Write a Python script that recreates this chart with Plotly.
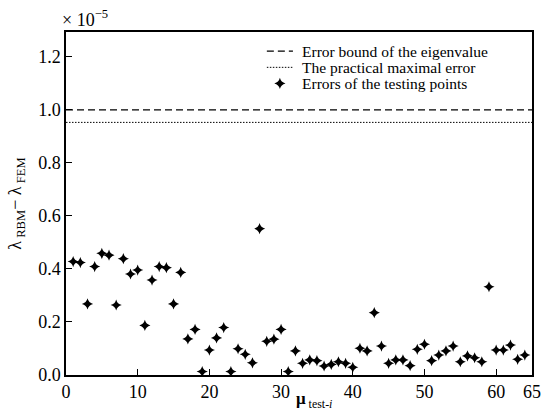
import plotly.graph_objects as go

# values in units of 1e-5
mu_test = list(range(1, 65))
errors = [0.428, 0.424, 0.268, 0.409, 0.459, 0.452, 0.264, 0.439, 0.381, 0.396,
          0.187, 0.358, 0.409, 0.405, 0.268, 0.387, 0.136, 0.172, 0.013, 0.094,
          0.140, 0.179, 0.013, 0.099, 0.078, 0.046, 0.552, 0.127, 0.135, 0.172,
          0.013, 0.091, 0.044, 0.057, 0.054, 0.034, 0.040, 0.050, 0.044, 0.029,
          0.101, 0.091, 0.235, 0.109, 0.044, 0.057, 0.057, 0.035, 0.097, 0.116,
          0.054, 0.075, 0.091, 0.109, 0.050, 0.072, 0.065, 0.050, 0.333, 0.094,
          0.094, 0.113, 0.059, 0.075]
error_bound = 1.0
practical_max = 0.953
x_range = [0, 65]
x_ticks = [0, 10, 20, 30, 40, 50, 60, 65]
y_ticks = [0.0, 0.2, 0.4, 0.6, 0.8, 1.0, 1.2]
legend_names = ["Error bound of the eigenvalue",
                "The practical maximal error",
                "Errors of the testing points"]

FONT = "Liberation Serif, Times New Roman, serif"
DASH = "7px,4px"
DOT = "1.5px,1.5px"

fig = go.Figure()
fig.add_trace(go.Scatter(x=x_range, y=[error_bound, error_bound], mode="lines",
                         line=dict(color="black", width=1.2, dash=DASH),
                         name=legend_names[0], showlegend=False))
fig.add_trace(go.Scatter(x=x_range, y=[practical_max, practical_max], mode="lines",
                         line=dict(color="black", width=1, dash=DOT),
                         name=legend_names[1], showlegend=False))
fig.add_trace(go.Scatter(x=mu_test, y=errors, mode="markers",
                         marker=dict(symbol="star-diamond", size=8, color="black"),
                         name=legend_names[2], showlegend=False))

# compact legend (the reference's entries are tightly stacked)
leg_y = [0.944, 0.897, 0.850]
leg_x0, leg_x1, leg_tx = 0.431, 0.487, 0.503
fig.add_shape(type="line", xref="paper", yref="paper", x0=leg_x0, x1=leg_x1,
              y0=leg_y[0], y1=leg_y[0], line=dict(color="black", width=1.2, dash=DASH))
fig.add_shape(type="line", xref="paper", yref="paper", x0=leg_x0, x1=leg_x1,
              y0=leg_y[1], y1=leg_y[1], line=dict(color="black", width=1, dash=DOT))
fig.add_trace(go.Scatter(x=[(leg_x0 + leg_x1) / 2], y=[leg_y[2]], mode="markers",
                         marker=dict(symbol="star-diamond", size=8, color="black"),
                         xaxis="x2", yaxis="y2", showlegend=False, hoverinfo="skip"))
for name, yy in zip(legend_names, leg_y):
    fig.add_annotation(text=name, xref="paper", yref="paper", x=leg_tx, y=yy,
                       xanchor="left", yanchor="middle", showarrow=False,
                       font=dict(size=15.5, family=FONT))

fig.update_layout(
    width=543, height=410,
    margin=dict(l=66, r=11, t=32, b=35),
    plot_bgcolor="white", paper_bgcolor="white",
    font=dict(family=FONT, size=16, color="black"),
    showlegend=False,
    xaxis=dict(range=x_range, tickvals=x_ticks, ticks="inside", ticklen=6,
               tickcolor="black", showline=True, linecolor="black", linewidth=1.5,
               mirror=True, showgrid=False, zeroline=False, automargin=False,
               tickfont=dict(size=18), showticklabels=True),
    yaxis=dict(range=[0, 1.294], tickvals=y_ticks, tickformat=".1f", ticks="inside",
               ticklen=6, tickcolor="black", showline=True, linecolor="black",
               linewidth=1.5, mirror=True, showgrid=False, zeroline=False,
               automargin=False, tickfont=dict(size=18),
               title=dict(text="λ<sub> RBM</sub>− λ<sub> FEM</sub>", standoff=12,
                          font=dict(size=18))),
    xaxis2=dict(range=[0, 1], overlaying="x", visible=False, fixedrange=True),
    yaxis2=dict(range=[0, 1], overlaying="y", visible=False, fixedrange=True),
)
# x-axis title, placed like the reference (right of centre, below tick labels)
fig.add_annotation(text="<b>μ</b><sub> test-<i>i</i></sub>", xref="paper", yref="paper",
                   x=0.49, y=-0.072, xanchor="left", yanchor="middle",
                   showarrow=False, font=dict(size=17, family=FONT))
fig.add_annotation(text="× 10<sup>−5</sup>", xref="paper", yref="paper",
                   x=-0.012, y=1.0, xanchor="left", yanchor="bottom",
                   showarrow=False, font=dict(size=18, family=FONT))

fig.write_html("out.html", config={"displayModeBar": False},
               post_script="document.body.style.margin='0';")
